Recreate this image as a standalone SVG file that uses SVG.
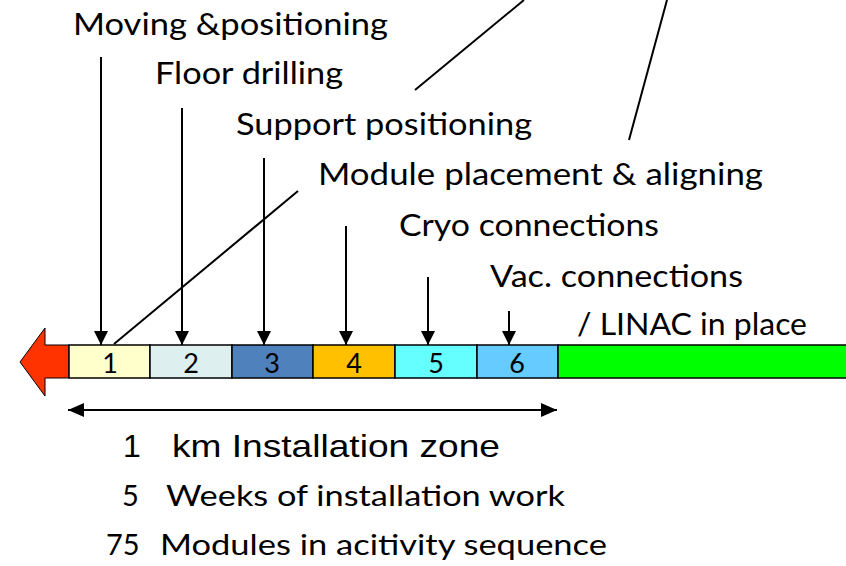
<svg xmlns="http://www.w3.org/2000/svg" width="846" height="566" viewBox="0 0 846 566">
  <style>
    .lbl { font-family: Lato, "Open Sans", "Liberation Sans", sans-serif; font-size: 30px; fill: #000; }
    .num { font-family: Lato, "Open Sans", "Liberation Sans", sans-serif; font-size: 27px; fill: #000; text-anchor: middle; }
    .seg { stroke: #000; stroke-width: 1.5; }
    .ln { stroke: #000; stroke-width: 2; fill: none; }
    .ar { stroke: #000; stroke-width: 2; fill: none; marker-end: url(#head); }
    .foot { font-family: Lato, "Open Sans", "Liberation Sans", sans-serif; font-size: 29px; fill: #000; }
    .arial { font-family: "Liberation Sans", Arial, sans-serif; font-size: 32px; fill: #000; }
  </style>
  <defs>
    <marker id="head" markerWidth="14" markerHeight="15" refX="14" refY="7" orient="auto" markerUnits="userSpaceOnUse">
      <path d="M0,0 L14,7 L0,14 Z" fill="#000"/>
    </marker>
    <marker id="headS" markerWidth="16" markerHeight="14" refX="16" refY="7" orient="auto-start-reverse" markerUnits="userSpaceOnUse">
      <path d="M0,0 L16,7 L0,14 Z" fill="#000"/>
    </marker>
  </defs>

  <!-- direction of progress -->
  <g id="progress-arrow">
    <path d="M20,362 L45,328 L45,345 L69,345 L69,378 L45,378 L45,396 Z" fill="#FF3300" stroke="#000" stroke-width="1"/>
  </g>

  <!-- activity segments -->
  <g id="seg1"><rect class="seg" x="69" y="345" width="81" height="33" fill="#FFFFCC"/><text class="num" x="110" y="373">1</text></g>
  <g id="seg2"><rect class="seg" x="150" y="345" width="82" height="33" fill="#DDEFEF"/><text class="num" x="191" y="373">2</text></g>
  <g id="seg3"><rect class="seg" x="232" y="345" width="81" height="33" fill="#4F81BD"/><text class="num" x="272" y="373">3</text></g>
  <g id="seg4"><rect class="seg" x="313" y="345" width="82" height="33" fill="#FFC000"/><text class="num" x="354" y="373">4</text></g>
  <g id="seg5"><rect class="seg" x="395" y="345" width="82" height="33" fill="#66FFFF"/><text class="num" x="436" y="373">5</text></g>
  <g id="seg6"><rect class="seg" x="477" y="345" width="81" height="33" fill="#66CCFF"/><text class="num" x="517" y="373">6</text></g>
  <g id="linac"><rect class="seg" x="558" y="345" width="292" height="33" fill="#00FF00"/></g>

  <!-- activity labels -->
  <g id="labels">
    <text class="lbl" x="73" y="35" textLength="315" lengthAdjust="spacingAndGlyphs">Moving &amp;positioning</text>
    <text class="lbl" x="155" y="84" textLength="188" lengthAdjust="spacingAndGlyphs">Floor drilling</text>
    <text class="lbl" x="236" y="135" textLength="296" lengthAdjust="spacingAndGlyphs">Support positioning</text>
    <text class="lbl" x="318" y="185" textLength="445" lengthAdjust="spacingAndGlyphs">Module placement &amp; aligning</text>
    <text class="lbl" x="399" y="236" textLength="260" lengthAdjust="spacingAndGlyphs">Cryo connections</text>
    <text class="lbl" x="490" y="287" textLength="253" lengthAdjust="spacingAndGlyphs">Vac. connections</text>
    <text class="lbl" x="577" y="335" textLength="230" lengthAdjust="spacingAndGlyphs">/ LINAC in place</text>
  </g>

  <!-- connectors -->
  <g id="connectors">
    <line class="ar" x1="101" y1="57" x2="101" y2="345"/>
    <line class="ar" x1="182" y1="108" x2="182" y2="345"/>
    <line class="ar" x1="264" y1="158" x2="264" y2="345"/>
    <line class="ar" x1="346" y1="226" x2="346" y2="345"/>
    <line class="ar" x1="428" y1="277" x2="428" y2="345"/>
    <line class="ar" x1="509" y1="311" x2="509" y2="345"/>
    <line class="ln" x1="114" y1="344" x2="298" y2="191"/>
    <line class="ln" x1="415" y1="90" x2="524" y2="0"/>
    <line class="ln" x1="629" y1="140" x2="667" y2="0"/>
    <line x1="68" y1="410" x2="557" y2="410" stroke="#000" stroke-width="2" marker-start="url(#headS)" marker-end="url(#headS)"/>
  </g>

  <!-- summary -->
  <g id="summary">
    <text class="arial" x="123" y="457">1</text>
    <text class="arial" x="172" y="457" textLength="328" lengthAdjust="spacingAndGlyphs">km Installation zone</text>
    <text class="foot" x="122" y="506">5</text>
    <text class="foot" x="166" y="506" textLength="399" lengthAdjust="spacingAndGlyphs">Weeks of installation work</text>
    <text class="foot" x="106" y="555">75</text>
    <text class="foot" x="160" y="555" textLength="447" lengthAdjust="spacingAndGlyphs">Modules in acitivity sequence</text>
  </g>
</svg>
